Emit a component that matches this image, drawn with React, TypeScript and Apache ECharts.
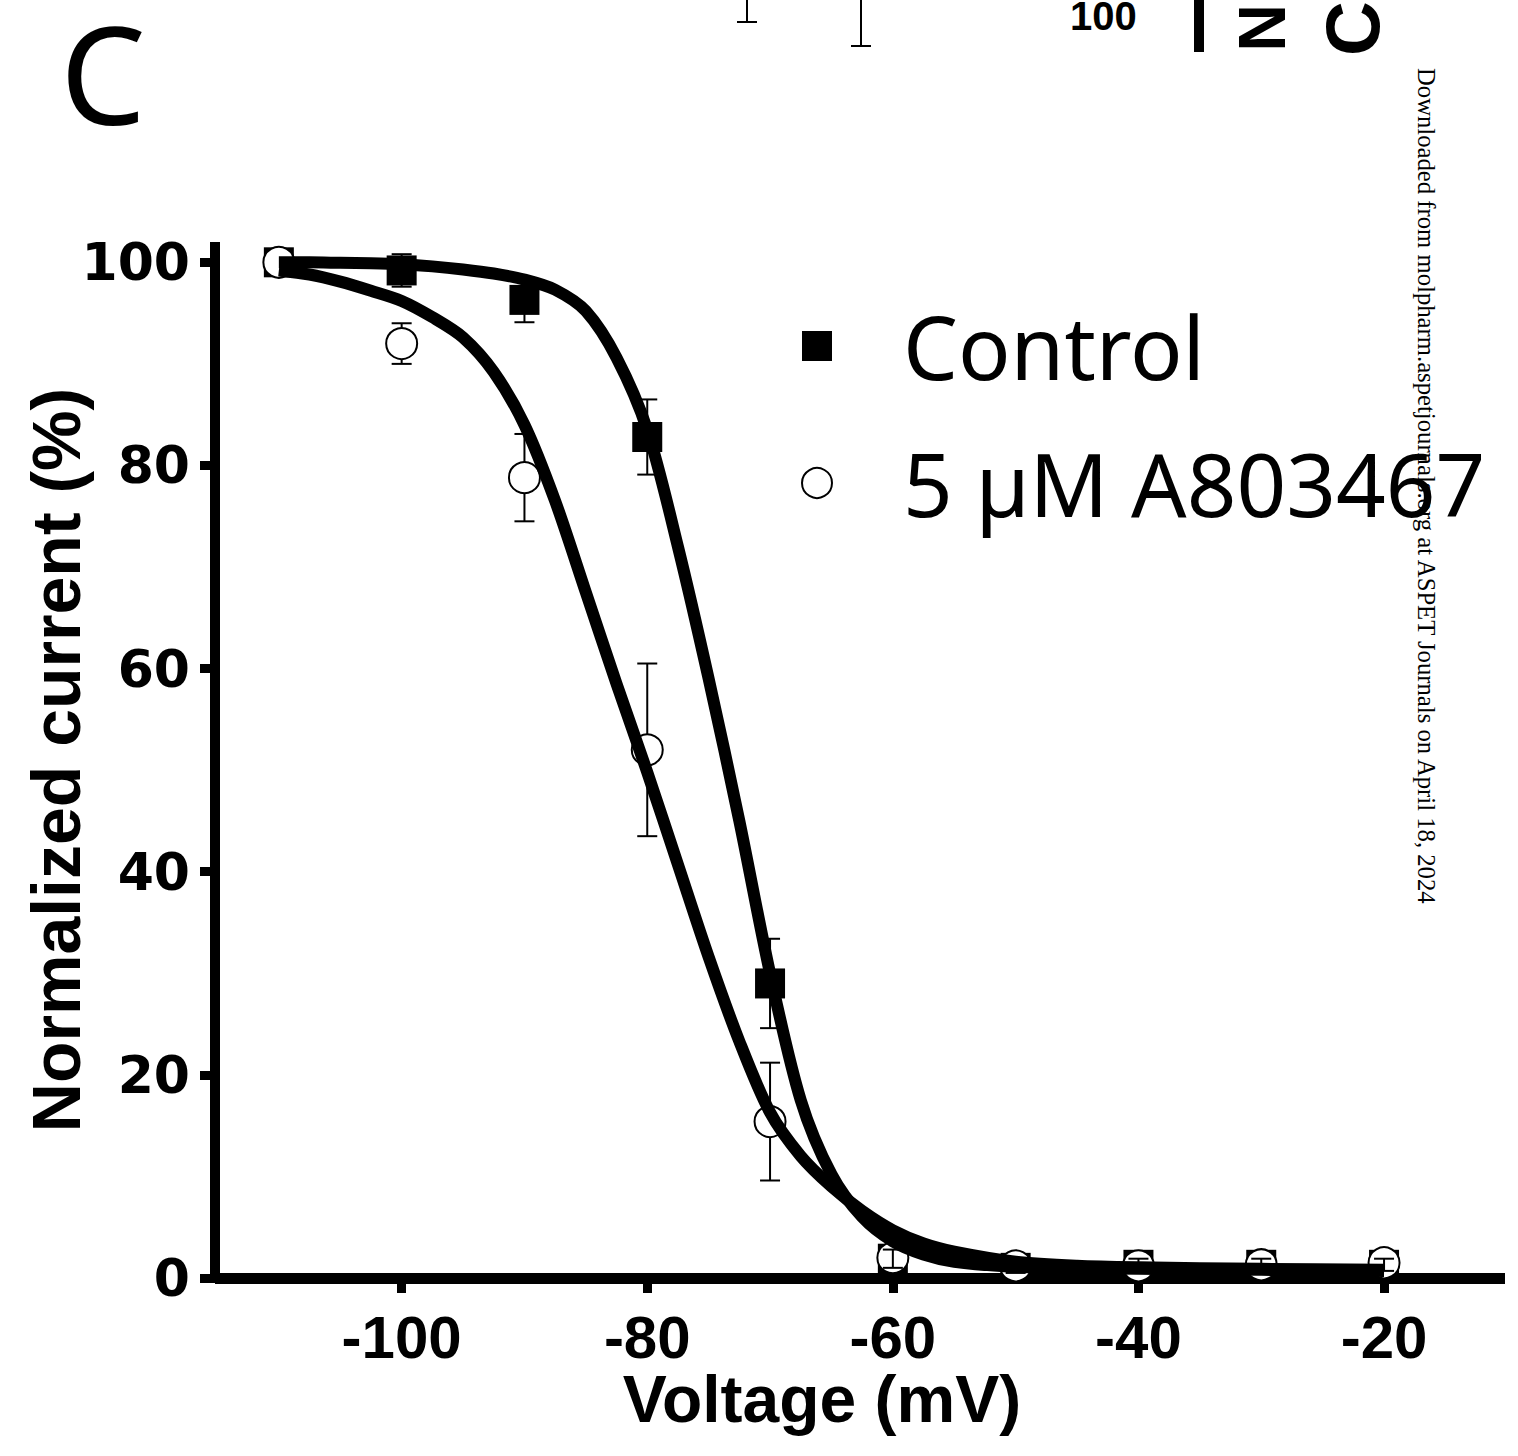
import React, { useEffect, useRef } from "react";
import * as echarts from "echarts";

// Measured points
const VOLTAGES = [-110, -100, -90, -80, -70, -60, -50, -40, -30, -20];
const CONTROL_MEAN = [100, 99.2, 96.3, 82.8, 29.0, 1.9, 1.0, 1.3, 1.3, 1.3];
const CONTROL_SEM = [0, 1.6, 2.2, 3.7, 4.4, 0.9, 0.5, 0.6, 0.6, 0.6];
const DRUG_MEAN = [100, 92.0, 78.8, 52.0, 15.4, 2.0, 1.2, 1.2, 1.3, 1.5];
const DRUG_SEM = [0, 2.0, 4.3, 8.5, 5.8, 1.0, 0.5, 0.6, 0.6, 1.0];

// Fitted curves
const FIT_V = [-110, -107.5, -105, -102.5, -100, -97.5, -95, -92.5, -90, -87.5, -85, -82.5, -80, -77.5, -75, -72.5, -70, -67.5, -65, -62.5, -60, -57.5, -55, -50, -45, -40, -30, -20];
const FIT_I_CONTROL = [100, 100, 99.95, 99.9, 99.8, 99.6, 99.3, 98.9, 98.3, 97.3, 95.2, 90.6, 83.5, 72, 59, 45, 30, 17.5, 10.2, 6.0, 3.6, 2.3, 1.6, 1.1, 1.0, 0.9, 0.8, 0.7];
const FIT_I_DRUG = [99.2, 98.8, 98.1, 97.2, 96.2, 94.6, 92.6, 89.2, 84, 76.5, 67.5, 58.5, 49.8, 40.7, 31.6, 23.3, 16.3, 12.0, 9.0, 6.6, 4.7, 3.4, 2.6, 1.6, 1.2, 1.05, 0.9, 0.8];

// Axis ticks
const X_TICKS = [-100, -80, -60, -40, -20];
const Y_TICKS = [0, 20, 40, 60, 80, 100];

const CONTROL_NAME = "Control";
const DRUG_NAME = "5 µM A803467";

function errorSeries(means: number[], sems: number[], z: number) {
  const data = VOLTAGES.map((v, i) => [v, means[i] - sems[i], means[i] + sems[i]]).filter(
    (_, i) => sems[i] > 0
  );
  return {
    type: "custom",
    z,
    silent: true,
    data,
    encode: { x: 0, y: [1, 2] },
    renderItem: (_params: any, api: any) => {
      const lo = api.coord([api.value(0), api.value(1)]);
      const hi = api.coord([api.value(0), api.value(2)]);
      const hw = 10;
      const style = { stroke: "#000", lineWidth: 2 };
      return {
        type: "group",
        children: [
          { type: "line", shape: { x1: lo[0], y1: lo[1], x2: hi[0], y2: hi[1] }, style },
          { type: "line", shape: { x1: hi[0] - hw, y1: hi[1], x2: hi[0] + hw, y2: hi[1] }, style },
          { type: "line", shape: { x1: lo[0] - hw, y1: lo[1], x2: lo[0] + hw, y2: lo[1] }, style },
        ],
      };
    },
  };
}

export default function App() {
  const ref = useRef<HTMLDivElement>(null);
  useEffect(() => {
    document.body.style.margin = "0";
    const chart = echarts.init(ref.current!, null, { renderer: "svg" });
    const option: any = {
      animation: false,
      backgroundColor: "#fff",
      grid: { left: 215, right: 13, top: 242, bottom: 178, containLabel: false },
      xAxis: {
        type: "value",
        min: -115.2,
        max: -10.15,
        name: "Voltage (mV)",
        nameLocation: "middle",
        nameGap: 91,
        nameMoveOverlap: false,
        nameTextStyle: {
          fontFamily: "Liberation Sans",
          fontWeight: "bold",
          fontSize: 66,
          lineHeight: 60,
          color: "#000",
          padding: [0, 76, 0, 0],
        },
        axisLine: { lineStyle: { color: "#000", width: 11, cap: "butt" } },
        axisTick: { customValues: X_TICKS, length: 15, lineStyle: { color: "#000", width: 9 } },
        axisLabel: {
          customValues: X_TICKS,
          margin: 34,
          lineHeight: 50,
          fontFamily: "Liberation Sans",
          fontWeight: "bold",
          fontSize: 60,
          color: "#000",
        },
        splitLine: { show: false },
      },
      yAxis: {
        type: "value",
        min: 0,
        max: 102,
        name: "Normalized current (%)",
        nameLocation: "middle",
        nameGap: 125,
        nameMoveOverlap: false,
        nameTextStyle: {
          fontFamily: "Liberation Sans",
          fontWeight: "bold",
          fontSize: 68,
          color: "#000",
        },
        axisLine: { lineStyle: { color: "#000", width: 10, cap: "butt" } },
        axisTick: { customValues: Y_TICKS, length: 15, lineStyle: { color: "#000", width: 9 } },
        axisLabel: {
          customValues: Y_TICKS,
          margin: 25,
          fontFamily: "DejaVu Sans",
          fontWeight: "bold",
          fontSize: 52,
          color: "#000",
        },
        splitLine: { show: false },
      },
      legend: {
        orient: "vertical",
        left: 796,
        top: 291,
        itemWidth: 30,
        itemHeight: 30,
        itemGap: 37,
        selectedMode: false,
        textStyle: {
          fontFamily: "Noto Sans",
          fontSize: 87,
          color: "#000",
          lineHeight: 100,
          padding: [0, 0, 0, 66],
        },
        data: [
          { name: CONTROL_NAME, icon: "rect", itemStyle: { color: "#000", borderWidth: 0, opacity: 1 } },
          {
            name: DRUG_NAME,
            icon: "circle",
            itemStyle: { color: "#fff", borderColor: "#000", borderWidth: 2, opacity: 1 },
          },
        ],
      },
      series: [
        {
          type: "scatter",
          name: CONTROL_NAME,
          z: 2,
          symbol: "rect",
          symbolSize: 30,
          itemStyle: { color: "#000", opacity: 1 },
          data: VOLTAGES.map((v, i) => [v, CONTROL_MEAN[i]]),
        },
        errorSeries(DRUG_MEAN, DRUG_SEM, 3),
        {
          type: "scatter",
          name: DRUG_NAME,
          z: 4,
          symbol: "circle",
          symbolSize: 31,
          itemStyle: { color: "#fff", borderColor: "#000", borderWidth: 2, opacity: 1 },
          data: VOLTAGES.map((v, i) => [v, DRUG_MEAN[i]]),
        },
        errorSeries(CONTROL_MEAN, CONTROL_SEM, 5),
        {
          type: "line",
          name: "Control fit",
          z: 6,
          showSymbol: false,
          smooth: 0.3,
          lineStyle: { color: "#000", width: 12, cap: "butt", join: "round" },
          data: FIT_V.map((v, i) => [v, FIT_I_CONTROL[i]]),
        },
        {
          type: "line",
          name: "A803467 fit",
          z: 6,
          showSymbol: false,
          smooth: 0.3,
          lineStyle: { color: "#000", width: 12, cap: "butt", join: "round" },
          data: FIT_V.map((v, i) => [v, FIT_I_DRUG[i]]),
        },
      ],
      graphic: [
        {
          type: "text",
          x: 60,
          y: 72,
          style: {
            text: "C",
            fontFamily: "Noto Sans",
            fontSize: 136,
            lineHeight: 130,
            fill: "#000",
            verticalAlign: "middle",
          },
        },
        // partial elements of the panel above (cut off at the top edge)
        { type: "line", shape: { x1: 747, y1: 0, x2: 747, y2: 22 }, style: { stroke: "#000", lineWidth: 2 } },
        { type: "line", shape: { x1: 737, y1: 22, x2: 757, y2: 22 }, style: { stroke: "#000", lineWidth: 2 } },
        { type: "line", shape: { x1: 861, y1: 0, x2: 861, y2: 46 }, style: { stroke: "#000", lineWidth: 2 } },
        { type: "line", shape: { x1: 851, y1: 46, x2: 871, y2: 46 }, style: { stroke: "#000", lineWidth: 2 } },
        {
          type: "text",
          x: 1070,
          y: 36,
          style: {
            text: "100",
            fontFamily: "Liberation Sans",
            fontWeight: "bold",
            fontSize: 40,
            fill: "#000",
            verticalAlign: "bottom",
          },
        },
        { type: "rect", shape: { x: 1194, y: 0, width: 10, height: 52 }, style: { fill: "#000" } },
        {
          type: "text",
          x: 1262,
          y: 28,
          rotation: Math.PI / 2,
          style: {
            text: "N",
            fontFamily: "Liberation Sans",
            fontWeight: "bold",
            fontSize: 66,
            fill: "#000",
            align: "center",
            verticalAlign: "middle",
          },
        },
        {
          type: "text",
          x: 1352,
          y: 56,
          rotation: Math.PI / 2,
          style: {
            text: "Cu",
            fontFamily: "Liberation Sans",
            fontWeight: "bold",
            fontSize: 76,
            fill: "#000",
            align: "left",
            verticalAlign: "middle",
          },
        },
        {
          type: "text",
          x: 1426,
          y: 68,
          rotation: -Math.PI / 2,
          z: 100,
          style: {
            text: "Downloaded from molpharm.aspetjournals.org at ASPET Journals on April 18, 2024",
            fontFamily: "Liberation Serif",
            fontSize: 24.7,
            fill: "#000",
            align: "left",
            verticalAlign: "middle",
          },
        },
      ],
    };
    chart.setOption(option);
    return () => chart.dispose();
  }, []);
  return <div ref={ref} style={{ width: 1518, height: 1456 }} />;
}
